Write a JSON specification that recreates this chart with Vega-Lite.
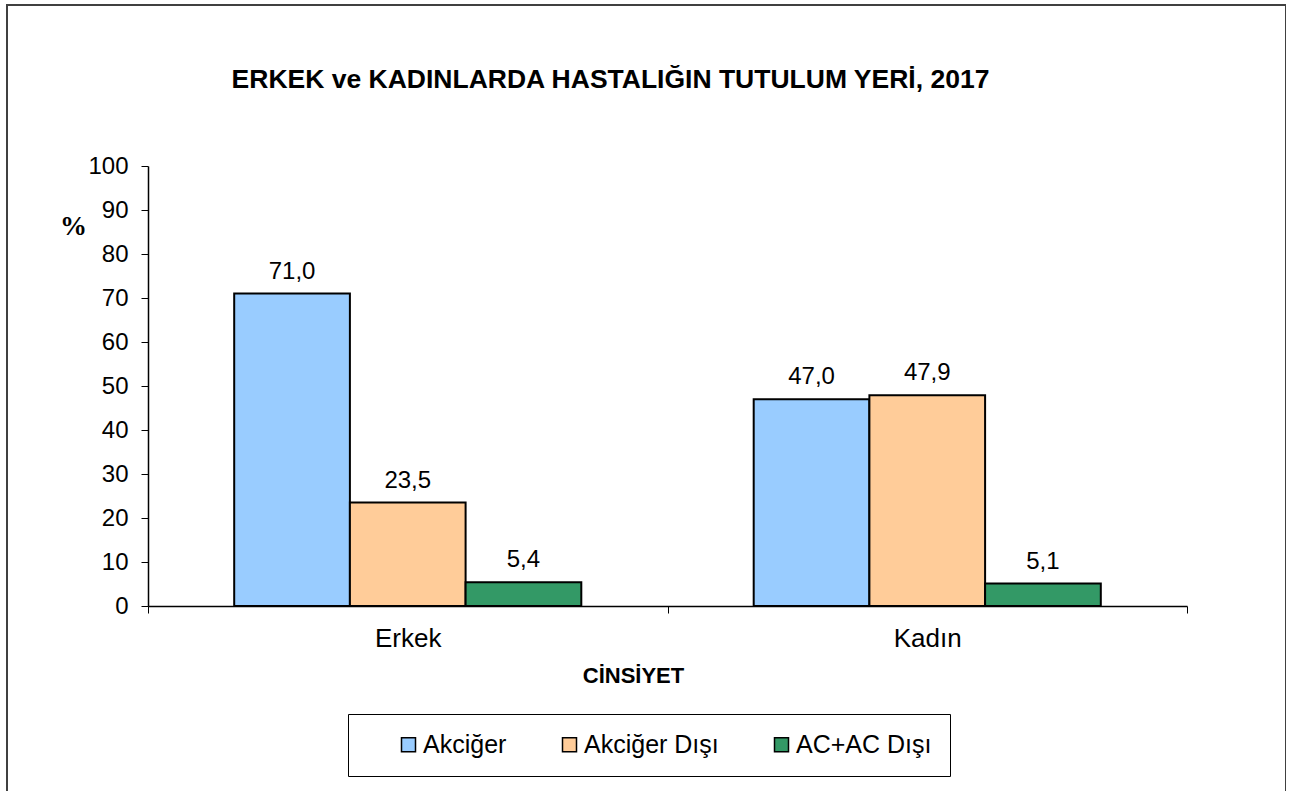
{
  "$schema": "https://vega.github.io/schema/vega-lite/v6.json",
  "autosize": "none",
  "padding": {"left": 7, "top": 5, "right": 0, "bottom": 0},
  "width": 1279,
  "height": 795,
  "background": "white",
  "title": {
    "text": "ERKEK ve KADINLARDA HASTALIĞIN TUTULUM YERİ, 2017",
    "font": "Liberation Sans",
    "fontSize": 26.5,
    "fontWeight": "bold",
    "color": "black",
    "anchor": "middle",
    "frame": "group",
    "baseline": "middle",
    "offset": 0,
    "dy": 101,
    "dx": -36
  },
  "data": {
    "values": [
      {"cinsiyet": "Erkek", "tutulum": "Akciğer", "yuzde": 71.0},
      {"cinsiyet": "Erkek", "tutulum": "Akciğer Dışı", "yuzde": 23.5},
      {"cinsiyet": "Erkek", "tutulum": "AC+AC Dışı", "yuzde": 5.4},
      {"cinsiyet": "Kadın", "tutulum": "Akciğer", "yuzde": 47.0},
      {"cinsiyet": "Kadın", "tutulum": "Akciğer Dışı", "yuzde": 47.9},
      {"cinsiyet": "Kadın", "tutulum": "AC+AC Dışı", "yuzde": 5.1}
    ]
  },
  "encoding": {
    "x": {
      "field": "cinsiyet",
      "type": "nominal",
      "sort": ["Erkek", "Kadın"],
      "scale": {"range": [141, 1180], "paddingInner": 0, "paddingOuter": 0},
      "axis": {
        "title": "CİNSİYET",
        "titleFont": "Liberation Sans",
        "titleFontSize": 22,
        "titleFontWeight": "bold",
        "titleColor": "black",
        "titleX": 626,
        "titleY": 69,
        "titleBaseline": "middle",
        "titleAlign": "center",
        "offset": -194,
        "labelAngle": 0,
        "labelFont": "Liberation Sans",
        "labelFontSize": 26,
        "labelColor": "black",
        "labelPadding": 12,
        "tickBand": "extent",
        "tickSize": 7,
        "tickColor": "black",
        "domainColor": "black",
        "domainWidth": 1.5,
        "grid": false
      }
    },
    "xOffset": {
      "field": "tutulum",
      "type": "nominal",
      "sort": ["Akciğer", "Akciğer Dışı", "AC+AC Dışı"],
      "scale": {"paddingInner": 0, "paddingOuter": 0.745}
    },
    "y": {
      "field": "yuzde",
      "type": "quantitative",
      "scale": {"domain": [0, 100], "range": [601, 161], "nice": false},
      "axis": {
        "title": "%",
        "titleFont": "Liberation Serif",
        "titleFontSize": 27,
        "titleFontWeight": "bold",
        "titleColor": "black",
        "titleAngle": 0,
        "titleX": -75,
        "titleY": 221,
        "titleAlign": "center",
        "titleBaseline": "middle",
        "offset": -141,
        "values": [0, 10, 20, 30, 40, 50, 60, 70, 80, 90, 100],
        "labelFont": "Liberation Sans",
        "labelFontSize": 24,
        "labelColor": "black",
        "labelPadding": 13,
        "tickSize": 7,
        "tickColor": "black",
        "domainColor": "black",
        "domainWidth": 1.5,
        "grid": false
      }
    }
  },
  "layer": [
    {
      "mark": {"type": "bar", "stroke": "black", "strokeWidth": 2},
      "encoding": {
        "color": {
          "field": "tutulum",
          "type": "nominal",
          "sort": ["Akciğer", "Akciğer Dışı", "AC+AC Dışı"],
          "scale": {
            "domain": ["Akciğer", "Akciğer Dışı", "AC+AC Dışı"],
            "range": ["#99CCFF", "#FFCC99", "#339966"]
          },
          "legend": {
            "title": " ",
            "titleOrient": "left",
            "titlePadding": 30,
            "titleFontSize": 10,
            "orient": "none",
            "legendX": 341,
            "legendY": 709,
            "direction": "horizontal",
            "columns": 3,
            "columnPadding": 50,
            "padding": 18,
            "strokeColor": "black",
            "fillColor": "white",
            "symbolType": "square",
            "symbolSize": 196,
            "symbolStrokeColor": "black",
            "symbolStrokeWidth": 1.5,
            "symbolOpacity": 1,
            "labelFont": "Liberation Sans",
            "labelFontSize": 25,
            "labelColor": "black",
            "labelOffset": 2,
            "labelLimit": 300
          }
        }
      }
    },
    {
      "mark": {
        "type": "text",
        "baseline": "alphabetic",
        "dy": -15,
        "font": "Liberation Sans",
        "fontSize": 24,
        "color": "black"
      },
      "encoding": {
        "text": {"field": "yuzde", "type": "quantitative", "format": ".1f"}
      }
    }
  ],
  "config": {
    "locale": {
      "number": {"decimal": ",", "thousands": ".", "grouping": [3], "currency": ["", " TL"]}
    },
    "view": {"stroke": "#404040", "strokeWidth": 2}
  }
}
